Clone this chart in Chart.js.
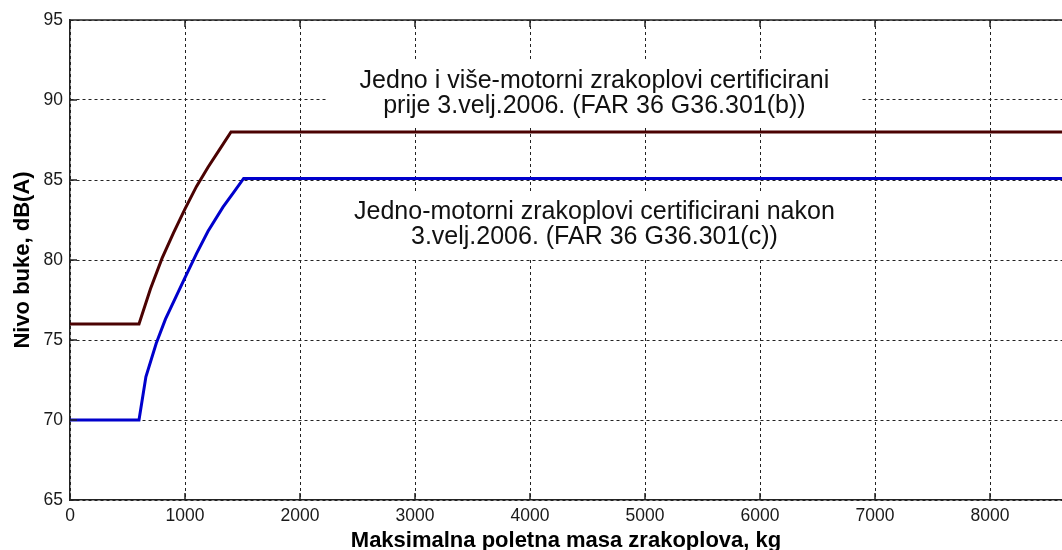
<!DOCTYPE html>
<html>
<head>
<meta charset="utf-8">
<script src="https://cdn.jsdelivr.net/npm/chart.js@4.4.1/dist/chart.umd.min.js"></script>
<style>
  html, body { margin: 0; padding: 0; background: #fff; }
  #wrap { width: 1062px; height: 550px; position: relative; }
</style>
</head>
<body>
<div id="wrap"><canvas id="chart"></canvas></div>
<script>
// masa (kg) i granica buke dB(A), ocitano sa slike
const massBefore = [0, 600, 700, 800, 900, 1000, 1100, 1200, 1300, 1400, 8700];
const noiseBefore = [76, 76, 78.2, 80.1, 81.7, 83.2, 84.6, 85.8, 86.9, 88, 88];
const massAfter = [0, 600, 660, 750, 830, 1000, 1100, 1200, 1330, 1420, 1510, 8700];
const noiseAfter = [70, 70, 72.7, 74.8, 76.3, 78.9, 80.4, 81.8, 83.3, 84.2, 85.1, 85.1];
const xTicks = [0, 1000, 2000, 3000, 4000, 5000, 6000, 7000, 8000];
const yTicks = [65, 70, 75, 80, 85, 90, 95];
const labelBefore = ['Jedno i više-motorni zrakoplovi certificirani', 'prije 3.velj.2006. (FAR 36 G36.301(b))'];
const labelAfter = ['Jedno-motorni zrakoplovi certificirani nakon', '3.velj.2006. (FAR 36 G36.301(c))'];

const FONT = 'Arial, "Liberation Sans", sans-serif';

function points(xs, ys) {
  return xs.map((x, i) => ({ x: x, y: ys[i] }));
}

// bijeli okviri s tekstom, crta se preko mreze a ispod linija
const notes = [
  { lines: labelBefore, x: 4560, y: [91.2, 89.6] },
  { lines: labelAfter, x: 4560, y: [83.0, 81.45] }
];

const frame = {
  id: 'frame',
  beforeDraw(chart) {
    const c = chart.ctx;
    c.save();
    c.fillStyle = '#fff';
    c.fillRect(0, 0, chart.width, chart.height);
    c.restore();
  },
  beforeDatasetsDraw(chart) {
    const c = chart.ctx;
    const xs = chart.scales.x, ys = chart.scales.y;
    c.save();
    c.font = '25px ' + FONT;
    c.textAlign = 'center';
    c.textBaseline = 'middle';
    notes.forEach(n => {
      const cx = xs.getPixelForValue(n.x);
      const py = n.y.map(v => ys.getPixelForValue(v));
      const w = Math.max(...n.lines.map(t => c.measureText(t).width)) + 64;
      c.fillStyle = '#fff';
      c.fillRect(cx - w / 2, py[0] - 19, w, py[py.length - 1] - py[0] + 40);
      c.fillStyle = '#111';
      n.lines.forEach((t, i) => c.fillText(t, cx, py[i]));
    });
    c.restore();
  },
  afterDraw(chart) {
    const c = chart.ctx;
    const a = chart.chartArea;
    const xs = chart.scales.x, ys = chart.scales.y;
    c.save();
    c.strokeStyle = '#222';
    c.lineWidth = 1.5;
    c.beginPath();
    c.moveTo(a.left, a.top);
    c.lineTo(a.right, a.top);
    xTicks.forEach(v => {
      const p = xs.getPixelForValue(v);
      c.moveTo(p, a.bottom); c.lineTo(p, a.bottom - 7);
      c.moveTo(p, a.top); c.lineTo(p, a.top + 7);
    });
    yTicks.forEach(v => {
      const p = ys.getPixelForValue(v);
      c.moveTo(a.left, p); c.lineTo(a.left + 7, p);
    });
    c.stroke();
    c.restore();
  }
};

new Chart(document.getElementById('chart'), {
  type: 'line',
  data: {
    datasets: [
      {
        data: points(massBefore, noiseBefore),
        borderColor: '#4b0202',
        borderWidth: 3,
        pointRadius: 0,
        tension: 0
      },
      {
        data: points(massAfter, noiseAfter),
        borderColor: '#0000cc',
        borderWidth: 3,
        pointRadius: 0,
        tension: 0
      }
    ]
  },
  options: {
    responsive: true,
    maintainAspectRatio: false,
    animation: false,
    layout: { padding: { top: 20, right: 0, bottom: 0, left: 0 } },
    plugins: {
      legend: { display: false },
      tooltip: { enabled: false }
    },
    scales: {
      x: {
        type: 'linear',
        min: 0,
        max: 8626,
        afterBuildTicks: s => { s.ticks = xTicks.map(v => ({ value: v })); },
        afterFit: s => { s.height = 50; },
        grid: { color: '#222', lineWidth: 1, drawTicks: false },
        border: { display: true, color: '#222', width: 1.5, dash: [3, 3] },
        ticks: { color: '#1a1a1a', padding: 6, font: { family: FONT, size: 17.5 }, callback: v => String(v) },
        title: {
          display: true,
          text: 'Maksimalna poletna masa zrakoplova, kg',
          color: '#000',
          padding: { top: 0, bottom: -4 },
          font: { family: FONT, size: 22, weight: 'bold' }
        }
      },
      y: {
        type: 'linear',
        min: 65,
        max: 95,
        afterBuildTicks: s => { s.ticks = yTicks.map(v => ({ value: v })); },
        afterFit: s => { s.width = 70; },
        grid: { color: '#222', lineWidth: 1, drawTicks: false },
        border: { display: true, color: '#222', width: 1.5, dash: [3, 3] },
        ticks: { color: '#1a1a1a', padding: 7, font: { family: FONT, size: 17.5 }, callback: v => String(v) },
        title: {
          display: true,
          text: 'Nivo buke, dB(A)',
          color: '#000',
          padding: { top: 10, bottom: 0 },
          font: { family: FONT, size: 22, weight: 'bold' }
        }
      }
    }
  },
  plugins: [frame]
});
</script>
</body>
</html>
